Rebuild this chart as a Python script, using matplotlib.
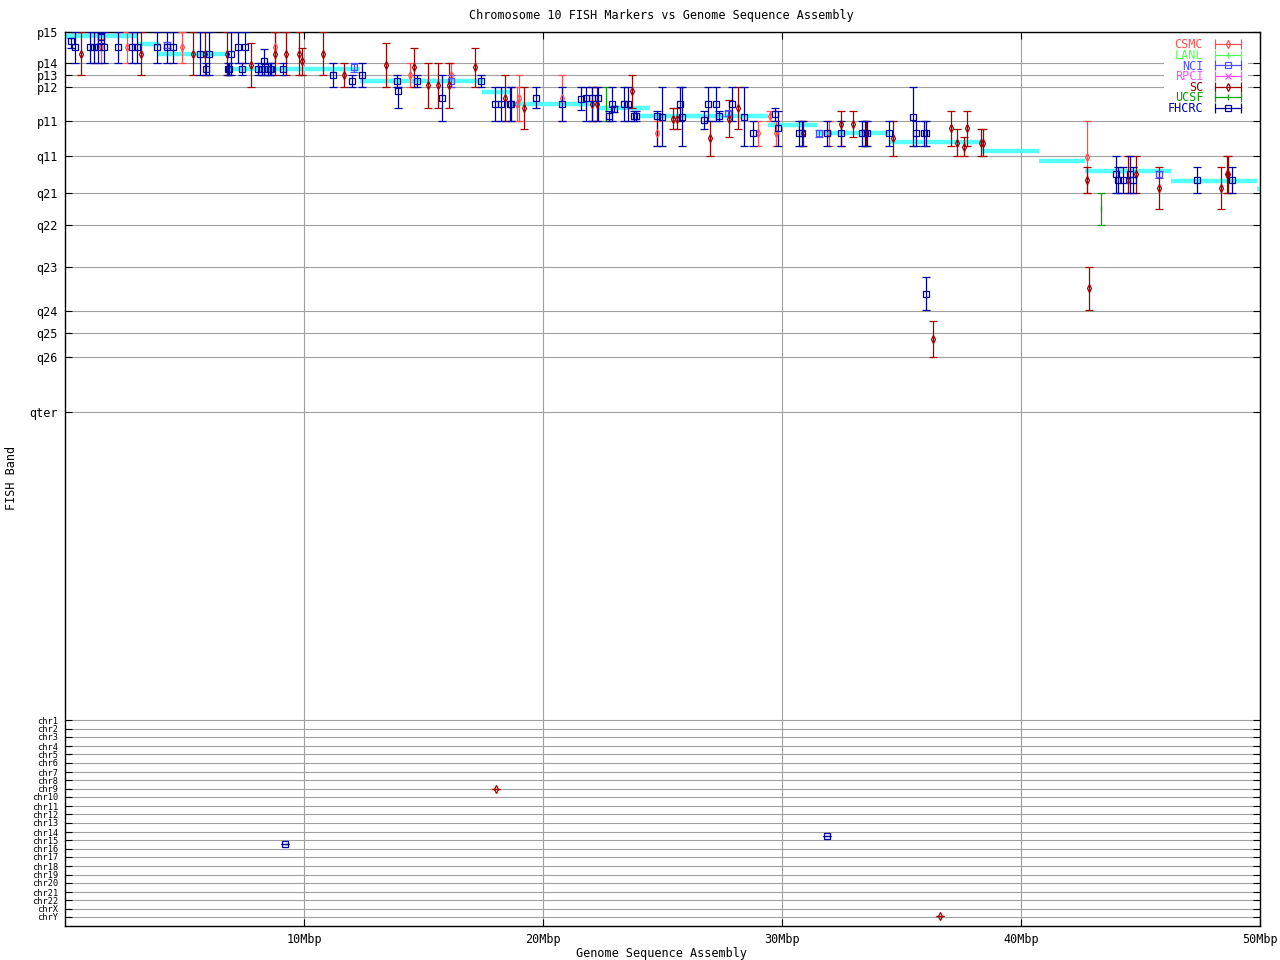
import matplotlib
matplotlib.use('Agg')
import matplotlib.pyplot as plt
from matplotlib.lines import Line2D
from matplotlib.legend_handler import HandlerLine2D

# FISH band axis (band units, top of p-arm = 0, growing downwards)
band_labels = ['p15', 'p14', 'p13', 'p12', 'p11', 'q11', 'q21', 'q22',
               'q23', 'q24', 'q25', 'q26', 'qter']
band_pos = [0, 31, 43, 55, 89, 124, 161, 193, 235, 279, 301, 325, 380]

chr_labels = ['chr1', 'chr2', 'chr3', 'chr4', 'chr5', 'chr6', 'chr7', 'chr8',
              'chr9', 'chr10', 'chr11', 'chr12', 'chr13', 'chr14', 'chr15',
              'chr16', 'chr17', 'chr18', 'chr19', 'chr20', 'chr21', 'chr22',
              'chrX', 'chrY']
chr_pos = [688, 697, 705, 714, 722, 731, 740, 748, 757, 765, 774, 782, 791,
           800, 808, 817, 825, 834, 843, 851, 860, 868, 877, 885]

x_ticks = [10, 20, 30, 40, 50]
x_tick_labels = ['10Mbp', '20Mbp', '30Mbp', '40Mbp', '50Mbp']

# sequence assembly band (Mbp start, Mbp end, band)
asm_start = [0.0, 3.05, 3.83, 6.77, 12.34, 17.45, 18.62, 22.26, 24.06, 29.41,
             31.46, 34.52, 38.37, 40.75, 42.68, 46.28, 49.87]
asm_end = [3.05, 3.97, 6.78, 12.34, 17.49, 18.62, 22.26, 24.48, 29.41, 31.46,
           34.52, 38.37, 40.75, 42.68, 46.28, 49.87, 50.1]
asm_band = [4, 12, 22, 37, 49, 60, 72, 76, 84, 93, 101, 110, 119, 129, 139,
            149, 157]

# FISH markers: position (Mbp), band, band range low/high
fhcrc_x = [0.25, 0.43, 1.06, 1.23, 1.37, 1.49, 1.64, 2.23, 2.80, 3.00, 3.86,
           4.26, 4.51, 5.65, 5.89, 6.04, 6.80, 6.88, 6.96, 7.25, 7.42, 7.54,
           8.09, 8.23, 8.34, 8.48, 8.56, 8.64, 9.13, 11.23, 12.02, 12.44,
           13.88, 13.95, 14.72, 15.79, 17.42, 17.99, 18.24, 18.60, 18.68,
           19.72, 20.81, 21.61, 21.79, 22.03, 22.31, 22.77, 22.90, 22.99,
           23.40, 23.57, 23.81, 23.89, 24.78, 24.99, 25.75, 25.83, 26.75,
           26.92, 27.23, 27.38, 27.92, 28.42, 28.80, 29.71, 29.85, 30.71,
           30.82, 31.87, 32.48, 33.33, 33.47, 33.56, 34.49, 35.49, 35.61,
           35.94, 36.03, 36.04, 43.97, 44.07, 44.28, 44.56, 44.67, 47.38,
           48.82, 9.22, 31.90]
fhcrc_y = [9, 15, 15, 15, 15, 5, 15, 15, 15, 15, 15, 15, 15, 22, 37, 22, 37,
           37, 22, 15, 37, 15, 37, 37, 29, 37, 37, 37, 37, 43, 49, 43, 49, 59,
           49, 66, 49, 72, 72, 72, 72, 66, 72, 67, 66, 66, 66, 84, 72, 77, 72,
           72, 84, 84, 84, 85, 72, 85, 88, 72, 72, 84, 72, 85, 101, 82, 96,
           101, 101, 101, 101, 101, 101, 101, 101, 85, 101, 101, 101, 262,
           142, 148, 148, 142, 148, 148, 148, 812, 804]
fhcrc_lo = [6, 0, 0, 0, 0, 1, 0, 0, 0, 0, 0, 0, 0, 0, 31, 0, 31, 31, 0, 0,
            31, 0, 31, 31, 17, 31, 31, 31, 31, 31, 43, 31, 43, 55, 43, 43, 43,
            55, 55, 55, 55, 55, 55, 55, 55, 55, 55, 79, 55, 74, 55, 55, 79, 79,
            79, 55, 55, 55, 79, 55, 55, 79, 55, 55, 89, 76, 79, 89, 89, 89, 89,
            89, 89, 89, 89, 55, 89, 89, 89, 245, 124, 135, 135, 124, 135, 135,
            135, 812, 804]
fhcrc_hi = [16, 31, 31, 31, 31, 11, 31, 31, 31, 31, 31, 31, 31, 43, 43, 43,
            43, 43, 43, 31, 43, 31, 43, 43, 43, 43, 43, 43, 43, 55, 55, 55, 55,
            76, 55, 89, 55, 89, 89, 89, 89, 76, 89, 78, 89, 89, 89, 89, 89, 80,
            89, 89, 89, 89, 114, 114, 89, 114, 97, 89, 89, 89, 89, 114, 114,
            89, 114, 114, 114, 114, 114, 114, 114, 114, 114, 114, 114, 114,
            114, 278, 161, 161, 161, 161, 161, 161, 161, 812, 804]

sc_x = [0.69, 3.19, 5.37, 5.87, 6.77, 7.80, 8.80, 9.26, 9.80, 9.92, 10.81,
        11.69, 13.43, 14.62, 15.20, 15.62, 16.05, 17.17, 18.41, 19.22, 22.07,
        22.24, 23.74, 25.45, 25.62, 27.00, 27.79, 28.17, 30.89, 32.48, 32.98,
        33.51, 34.66, 37.07, 37.31, 37.63, 37.75, 38.33, 38.42, 36.33, 42.75,
        42.86, 44.49, 44.80, 45.79, 48.36, 48.61, 48.66, 18.03, 36.63]
sc_y = [22, 22, 22, 22, 22, 33, 22, 22, 22, 29, 22, 43, 33, 35, 53, 53, 53,
        35, 66, 76, 72, 72, 59, 87, 87, 106, 87, 76, 101, 92, 92, 101, 106,
        96, 111, 115, 96, 111, 111, 307, 148, 256, 148, 142, 156, 156, 142,
        142, 757, 884]
sc_lo = [0, 0, 0, 0, 0, 11, 0, 0, 0, 16, 0, 31, 11, 16, 31, 31, 31, 16, 43,
         55, 55, 55, 43, 76, 76, 89, 68, 55, 89, 79, 79, 89, 89, 79, 97, 105,
         79, 97, 97, 289, 135, 235, 124, 124, 135, 135, 124, 124, 757, 884]
sc_hi = [43, 43, 43, 43, 43, 55, 43, 43, 43, 43, 43, 55, 55, 55, 76, 76, 76,
         55, 89, 97, 89, 89, 76, 97, 97, 124, 105, 97, 114, 114, 105, 114, 124,
         114, 124, 124, 114, 124, 124, 325, 161, 278, 161, 161, 177, 177, 161,
         161, 757, 884]

csmc_x = [1.51, 2.59, 4.90, 8.80, 14.44, 16.15, 18.90, 19.01, 20.81, 24.78,
          29.01, 29.50, 29.75, 31.98, 42.75]
csmc_y = [15, 15, 15, 15, 43, 43, 72, 66, 66, 101, 101, 84, 101, 101, 125]
csmc_lo = [7, 0, 0, 0, 31, 31, 55, 43, 43, 89, 89, 79, 89, 89, 89]
csmc_hi = [31, 31, 31, 31, 55, 55, 89, 89, 89, 114, 114, 89, 114, 114, 161]

nci_x = [4.27, 12.10, 16.15, 27.73, 31.56, 45.79]
nci_y = [13, 35, 49, 81, 101, 142]
nci_lo = [10, 31, 43, 79, 98, 139]
nci_hi = [16, 40, 55, 84, 105, 146]

ucsf_x = [22.62, 43.36]
ucsf_y = [72, 177]
ucsf_lo = [55, 161]
ucsf_hi = [89, 193]

lanl_x, lanl_y, lanl_lo, lanl_hi = [], [], [], []
rpci_x, rpci_y, rpci_lo, rpci_hi = [], [], [], []

series = [
    ('CSMC', '#ff5050', 'd', csmc_x, csmc_y, csmc_lo, csmc_hi),
    ('LANL', '#50ff50', '|', lanl_x, lanl_y, lanl_lo, lanl_hi),
    ('NCI', '#5050ff', 's', nci_x, nci_y, nci_lo, nci_hi),
    ('RPCI', '#ff50ff', 'x', rpci_x, rpci_y, rpci_lo, rpci_hi),
    ('SC', '#a00000', 'd', sc_x, sc_y, sc_lo, sc_hi),
    ('UCSF', '#00a000', '|', ucsf_x, ucsf_y, ucsf_lo, ucsf_hi),
    ('FHCRC', '#0000a0', 's', fhcrc_x, fhcrc_y, fhcrc_lo, fhcrc_hi),
]

FONT = 'DejaVu Sans Mono'
FS = 8.5
plt.rcParams['font.family'] = FONT

fig = plt.figure(figsize=(12.8, 9.6), dpi=100)
ax = fig.add_axes([65 / 1280, 1 - 926 / 960, 1195 / 1280, 894 / 960])

ax.hlines(asm_band, asm_start, asm_end, color='#55ffff', lw=3.2, zorder=2)

handles = []
hmap = {}
for name, color, mk, xs, ys, los, his in series:
    if xs:
        yerr = [[y - lo for y, lo in zip(ys, los)],
                [hi - y for y, hi in zip(ys, his)]]
        ms = 5 if mk == 's' else 4
        ax.errorbar(xs, ys, yerr=yerr, fmt=mk, color=color, ms=ms,
                    mfc='none', mew=0.9, elinewidth=0.9, capsize=3,
                    capthick=0.9, zorder=3)
    cap = Line2D([], [], color=color, lw=0.9, marker='|', ms=7, mew=0.9)
    mark = Line2D([], [], color=color, ls='none', marker=mk, mfc='none',
                  ms=4, mew=0.9)
    hmap[cap] = HandlerLine2D(numpoints=2)
    hmap[mark] = HandlerLine2D(numpoints=1)
    handles.append((cap, mark))

ax.set_xlim(0, 50)
ax.set_ylim(894, 0)

ax.set_xticks(x_ticks)
ax.set_xticklabels(x_tick_labels, fontsize=FS)
ax.set_yticks(band_pos + chr_pos)
ax.set_yticklabels(band_labels + chr_labels, fontsize=FS)
# chromosome rows are packed tightly, so use a smaller face for them
for lbl in ax.get_yticklabels()[len(band_labels):]:
    lbl.set_fontsize(6.2)
ax.tick_params(direction='in', length=5, width=0.8, top=True, right=True,
               pad=5)
ax.grid(True, color='#a0a0a0', lw=0.8)
ax.set_axisbelow(True)
for sp in ax.spines.values():
    sp.set_linewidth(1.0)

leg = ax.legend(handles, [s[0] for s in series], handler_map=hmap,
                loc='upper right', bbox_to_anchor=(0.990, 0.997),
                markerfirst=False, frameon=True, fancybox=False,
                edgecolor='none', facecolor='white', framealpha=1,
                fontsize=FS, handlelength=2.8, handletextpad=0.7,
                labelspacing=-0.2, borderpad=0.3, borderaxespad=0)
for txt, s in zip(leg.get_texts(), series):
    txt.set_color(s[1])
    txt.set_ha('right')

fig.text(661 / 1280, 1 - 15 / 960,
         'Chromosome 10 FISH Markers vs Genome Sequence Assembly',
         ha='center', va='center', fontsize=FS)
fig.text(661 / 1280, 1 - 953 / 960, 'Genome Sequence Assembly',
         ha='center', va='center', fontsize=FS)
fig.text(12 / 1280, 1 - 478 / 960, 'FISH Band', rotation=90,
         ha='center', va='center', fontsize=FS)

fig.savefig('out.png', dpi=100)
